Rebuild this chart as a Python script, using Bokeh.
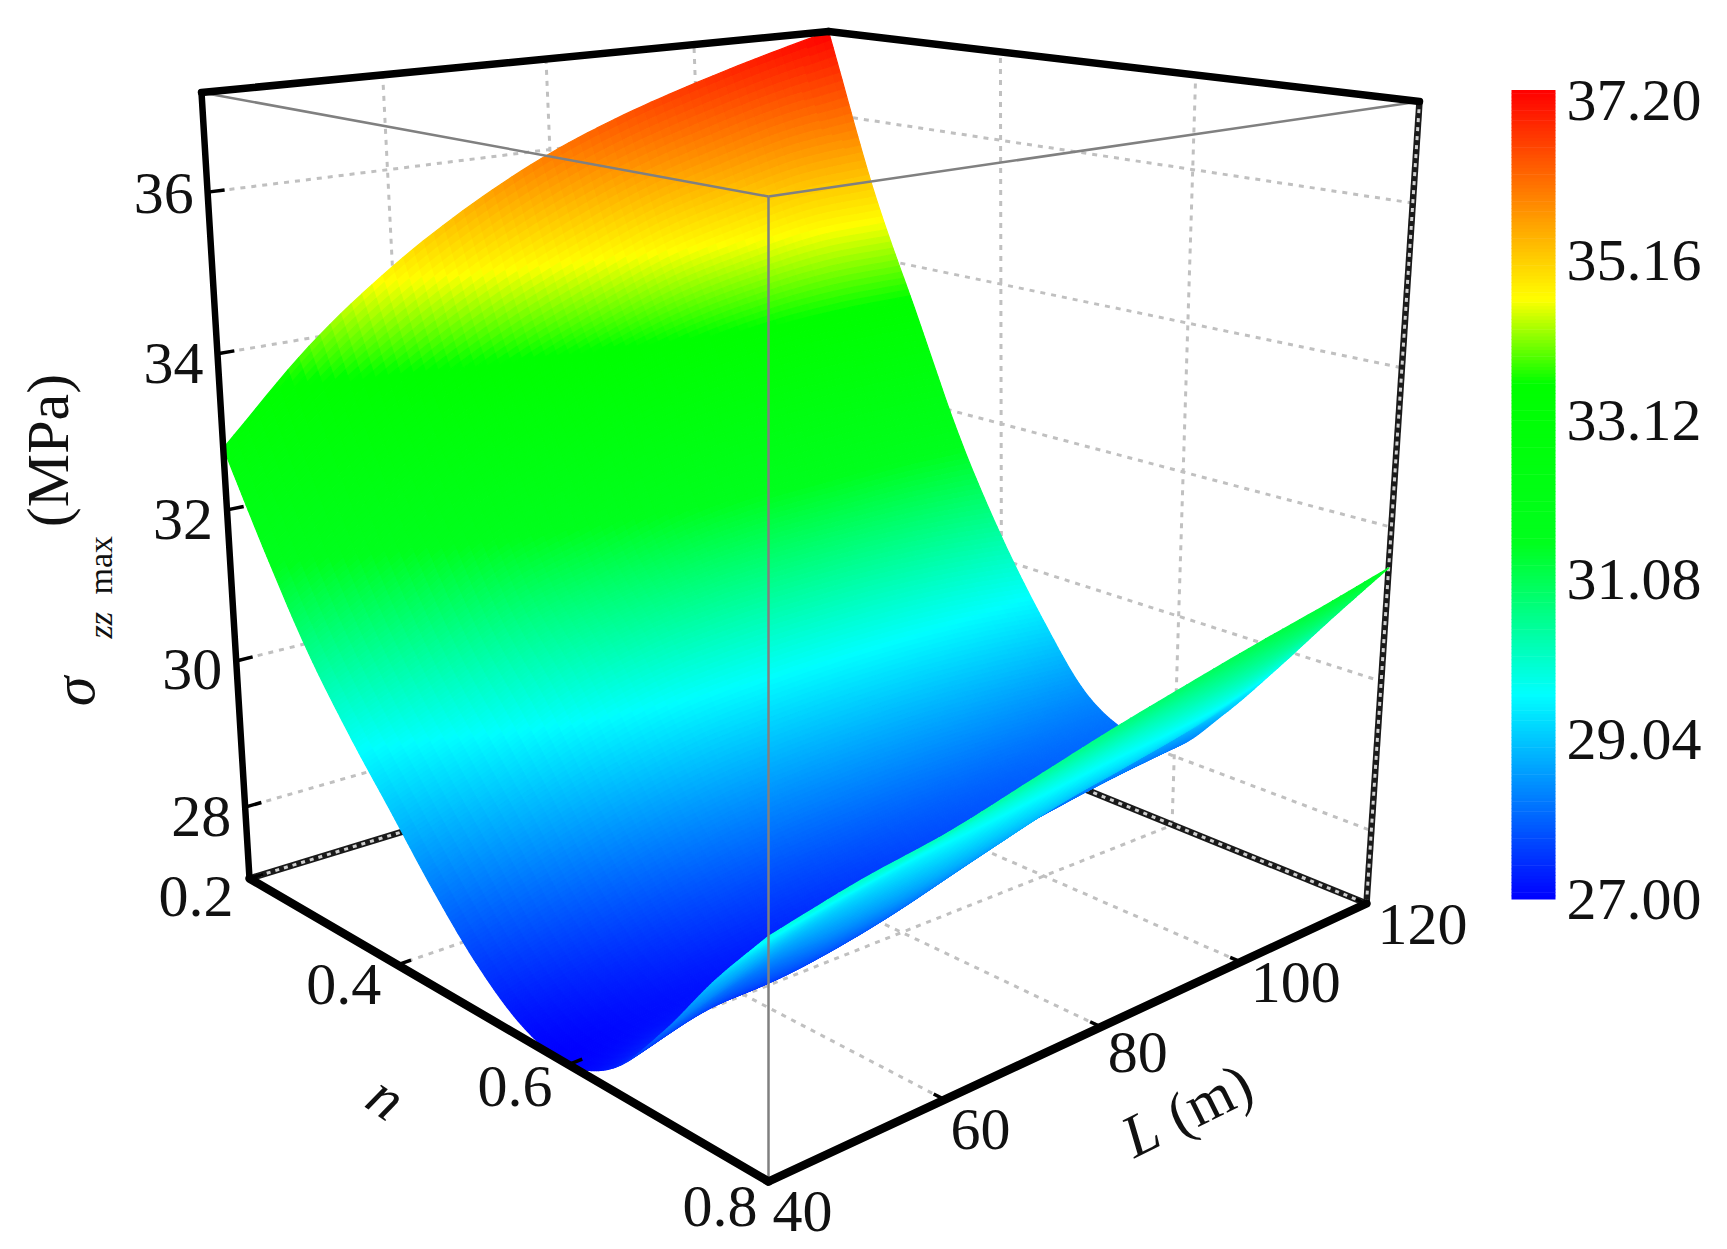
import numpy as np
from bokeh.plotting import figure
from bokeh.models import Range1d
from bokeh.core.properties import value
from bokeh.embed import file_html
from bokeh.resources import INLINE

# ---------- data ----------
L_values = [40, 50, 60, 70, 80, 90, 100, 110, 120]
n_values = [0.20, 0.25, 0.30, 0.35, 0.40, 0.45, 0.50, 0.55, 0.60, 0.65, 0.70, 0.75, 0.80]
sigma_n020 = [32.8, 33.9, 34.75, 35.42, 35.95, 36.35, 36.67, 36.95, 37.2]
sigma_n025 = [31.65, 32.45, 33.1, 33.65, 34.1, 34.5, 34.75, 34.95, 35.0]
sigma_n030 = [30.6, 31.25, 31.95, 32.4, 32.85, 33.1, 33.25, 33.3, 33.3]
sigma_n035 = [29.75, 30.25, 30.8, 31.1, 31.4, 31.55, 31.6, 31.65, 31.65]
sigma_n040 = [29.0, 29.45, 30.0, 30.3, 30.45, 30.5, 30.5, 30.45, 30.35]
sigma_n045 = [28.25, 28.7, 29.05, 29.3, 29.4, 29.45, 29.45, 29.4, 29.3]
sigma_n050 = [27.6, 27.9, 28.2, 28.4, 28.5, 28.55, 28.55, 28.5, 28.45]
sigma_n055 = [27.15, 27.35, 27.55, 27.7, 27.8, 27.9, 27.95, 28.02, 28.1]
sigma_n060 = [27.0, 27.15, 27.2, 27.32, 27.5, 27.75, 27.92, 28.05, 28.15]
sigma_n065 = [27.3, 27.55, 27.6, 27.78, 28.07, 28.37, 28.55, 28.72, 28.85]
sigma_n070 = [28.05, 28.35, 28.42, 28.55, 28.78, 29.02, 29.2, 29.4, 29.7]
sigma_n075 = [28.95, 29.2, 29.4, 29.55, 29.75, 29.95, 30.1, 30.3, 30.6]
sigma_n080 = [29.75, 29.98, 30.15, 30.4, 30.65, 30.87, 31.08, 31.27, 31.48]

L_ticks = [40, 60, 80, 100, 120]
n_ticks = [0.2, 0.4, 0.6, 0.8]
z_ticks = [28, 30, 32, 34, 36]
cbar_ticks = ["27.00", "29.04", "31.08", "33.12", "35.16", "37.20"]
z_min, z_max = 27.0, 37.2

cmap_values = [27.0, 29.58, 31.49, 33.5, 34.56, 37.2]
cmap_r = [0, 0, 0, 0, 255, 255]
cmap_g = [0, 255, 255, 255, 255, 0]
cmap_b = [255, 255, 30, 0, 0, 0]

FONT = value("Liberation Serif")

# ---------- projection: box corners in the picture -> 3D homography + corner correction ----------
corners = [
    (40, .2, 27, 249, 878), (40, .2, 37.2, 201, 92),
    (40, .8, 27, 768, 1181), (40, .8, 37.2, 768, 196),
    (120, .8, 27, 1366, 903), (120, .8, 37.2, 1419, 101),
    (120, .2, 27, 851, 694), (120, .2, 37.2, 828, 31),
]


def norm(L, n, z):
    return (np.asarray(L, float) - 40) / 80, (np.asarray(n, float) - .2) / .6, (np.asarray(z, float) - 27) / 10.2


A = []
for L, n, z, u, v in corners:
    X, Y, Z = norm(L, n, z)
    A.append([X, Y, Z, 1, 0, 0, 0, 0, -u * X, -u * Y, -u * Z, -u])
    A.append([0, 0, 0, 0, X, Y, Z, 1, -v * X, -v * Y, -v * Z, -v])
P = np.linalg.svd(np.array(A, float))[2][-1].reshape(3, 4)
if P[2, 3] < 0:
    P = -P


def raw_project(L, n, z):
    X, Y, Z = norm(L, n, z)
    w = P[2, 0] * X + P[2, 1] * Y + P[2, 2] * Z + P[2, 3]
    return (P[0, 0] * X + P[0, 1] * Y + P[0, 2] * Z + P[0, 3]) / w, (P[1, 0] * X + P[1, 1] * Y + P[1, 2] * Z + P[1, 3]) / w, w


residual = []
for L, n, z, u, v in corners:
    ru, rv, _ = raw_project(L, n, z)
    residual.append((u - float(ru), v - float(rv)))


def project(L, n, z):
    x, y, w = raw_project(L, n, z)
    X, Y, Z = norm(L, n, z)
    for (cL, cn, cz, _, _), (dx, dy) in zip(corners, residual):
        cX, cY, cZ = norm(cL, cn, cz)
        weight = (X if cX else 1 - X) * (Y if cY else 1 - Y) * (Z if cZ else 1 - Z)
        x = x + weight * dx
        y = y + weight * dy
    return x, y, w


def colour(z):
    r = np.interp(z, cmap_values, cmap_r)
    g = np.interp(z, cmap_values, cmap_g)
    b = np.interp(z, cmap_values, cmap_b)
    return ["#%02x%02x%02x" % (int(a), int(c), int(d)) for a, c, d in zip(r, g, b)]


def spline(arr, factor, axis):
    """Catmull-Rom smoothing between the read nodes, for drawing only."""
    arr = np.moveaxis(arr, axis, 0)
    ext = np.concatenate([2 * arr[:1] - arr[1:2], arr, 2 * arr[-1:] - arr[-2:-1]])
    m = arr.shape[0]
    out = []
    for i in range(m - 1):
        for k in range(factor + (1 if i == m - 2 else 0)):
            t = k / factor
            p0, p1, p2, p3 = ext[i], ext[i + 1], ext[i + 2], ext[i + 3]
            out.append(.5 * (2 * p1 + (p2 - p0) * t + (2 * p0 - 5 * p1 + 4 * p2 - p3) * t ** 2 + (3 * p1 - p0 - 3 * p2 + p3) * t ** 3))
    return np.moveaxis(np.array(out), 0, axis)


p = figure(width=1720, height=1245, x_range=Range1d(0, 1720), y_range=Range1d(1245, 0),
           output_backend="svg", toolbar_location=None, min_border=0, outline_line_color=None)
p.xaxis.visible = False
p.yaxis.visible = False
p.grid.visible = False


def seg(a, b, **kw):
    x0, y0, _ = project(*a)
    x1, y1, _ = project(*b)
    p.line([float(x0), float(x1)], [float(y0), float(y1)], **kw)


# ---------- dashed grid on the back walls and the floor ----------
grid = dict(line_color="#c0c0c0", line_width=3, line_dash="5 6")
for L in L_ticks[1:-1]:
    seg((L, .2, z_min), (L, .2, z_max), **grid)
    seg((L, .2, z_min), (L, .8, z_min), **grid)
for n in n_ticks[1:-1]:
    seg((120, n, z_min), (120, n, z_max), **grid)
    seg((40, n, z_min), (120, n, z_min), **grid)
for z in z_ticks:
    seg((40, .2, z), (120, .2, z), **grid)
    seg((120, .2, z), (120, .8, z), **grid)

# ---------- hidden-side edges (patterned) ----------
for a, b in [((40, .2, z_min), (120, .2, z_min)), ((120, .2, z_min), (120, .8, z_min)), ((120, .8, z_min), (120, .8, z_max))]:
    seg(a, b, line_color="#1a1a1a", line_width=6.5)
    seg(a, b, line_color="#d0d0d0", line_width=3, line_dash="4 5")

# ---------- surface ----------
table = np.array([sigma_n020, sigma_n025, sigma_n030, sigma_n035, sigma_n040, sigma_n045, sigma_n050,
                  sigma_n055, sigma_n060, sigma_n065, sigma_n070, sigma_n075, sigma_n080])
FN, FL = 20, 8
ZZ = spline(spline(table, FN, 0), FL, 1)
NN = spline(spline(np.tile(np.array(n_values)[:, None], (1, 9)), FN, 0), FL, 1)
LL = spline(spline(np.tile(np.array(L_values, float)[None, :], (13, 1)), FN, 0), FL, 1)
sx, sy, sw = project(LL, NN, ZZ)
xs, ys, zc, wc = [], [], [], []
for i in range(ZZ.shape[0] - 1):
    for j in range(ZZ.shape[1] - 1):
        xs.append([sx[i, j], sx[i + 1, j], sx[i + 1, j + 1], sx[i, j + 1]])
        ys.append([sy[i, j], sy[i + 1, j], sy[i + 1, j + 1], sy[i, j + 1]])
        zc.append(ZZ[i:i + 2, j:j + 2].mean())
        wc.append(sw[i:i + 2, j:j + 2].mean())
order = np.argsort(-np.array(wc))
cols = colour(np.array(zc)[order])
p.patches([[float(v) for v in xs[k]] for k in order], [[float(v) for v in ys[k]] for k in order],
          fill_color=cols, line_color=cols, line_width=1.2)

# ---------- front thin lines and solid box edges ----------
thin = dict(line_color="#808080", line_width=2.5)
seg((40, .2, z_max), (40, .8, z_max), **thin)
seg((120, .8, z_max), (40, .8, z_max), **thin)
seg((40, .8, z_min), (40, .8, z_max), **thin)
seg((40, .2, z_max), (120, .2, z_max), line_color="#000000", line_width=7.5, line_cap="round")
seg((120, .2, z_max), (120, .8, z_max), line_color="#000000", line_width=7.5, line_cap="round")
seg((40, .2, z_min), (40, .2, z_max), line_color="#000000", line_width=6.5, line_cap="round")
seg((40, .2, z_min), (40, .8, z_min), line_color="#000000", line_width=8.5, line_cap="round")
seg((40, .8, z_min), (120, .8, z_min), line_color="#000000", line_width=8.5, line_cap="round")

# ---------- ticks and labels ----------
tick = dict(line_color="#000000", line_width=3.5)


def label(x, y, text, size="60px", angle=0.0, style="normal", align="center", baseline="middle"):
    p.text([float(x)], [float(y)], text=[text], text_font=FONT, text_font_size=size, angle=angle,
           text_font_style=style, text_align=align, text_baseline=baseline, text_color="#111111")


for z, dy in zip(z_ticks, [9, 9, 10, 10, 1]):
    seg((40, .2, z), (41.8, .2, z), **tick)
    x, y, _ = project(40, .2, z)
    label(x - 14, y + dy, str(z), align="right")
for n, off in zip(n_ticks, [(-16, 18), (-16, 20), (-16, 22), (-11, 25)]):
    seg((40, n, z_min), (41.5, n, z_min), **tick)
    x, y, _ = project(40, n, z_min)
    label(x + off[0], y + off[1], "%.1f" % n, align="right")
for L, off in zip(L_ticks, [(4, 30), (6, 30), (7, 26), (10, 21), (11, 21)]):
    seg((L, .8, z_min), (L, .79, z_min), **tick)
    x, y, _ = project(L, .8, z_min)
    label(x + off[0], y + off[1], str(L), align="left")

# axis titles
label(73, 691, "\u03c3", angle=np.pi / 2, style="italic")
label(100, 638, "zz", size="34px", angle=np.pi / 2, style="italic", align="left", baseline="alphabetic")
label(100, 594, "max", size="34px", angle=np.pi / 2, align="left", baseline="alphabetic")
label(47, 450, "(MPa)", angle=np.pi / 2)
label(1125, 1140, "L", angle=0.46, style="italic", align="left")
label(1170, 1118, "(m)", angle=0.46, align="left")
label(386, 1097, "n", angle=-0.6, style="italic")

# ---------- colour bar ----------
cb_left, cb_right, cb_bottom, cb_top = 1511, 1555, 899, 90
label_bottom, label_top = 899, 100
zb = np.linspace(z_min, z_max, 241)
yb = cb_bottom + (zb - z_min) / (z_max - z_min) * (cb_top - cb_bottom)
p.quad(left=cb_left, right=cb_right, bottom=yb[:-1].tolist(), top=(yb[1:] - 0.6).tolist(),
       fill_color=colour((zb[:-1] + zb[1:]) / 2), line_color=None)
for t in cbar_ticks:
    y = label_bottom + (float(t) - z_min) / (z_max - z_min) * (label_top - label_bottom)
    label(1566, y, t, align="left")

open("out.html", "w").write(file_html(p, INLINE))
